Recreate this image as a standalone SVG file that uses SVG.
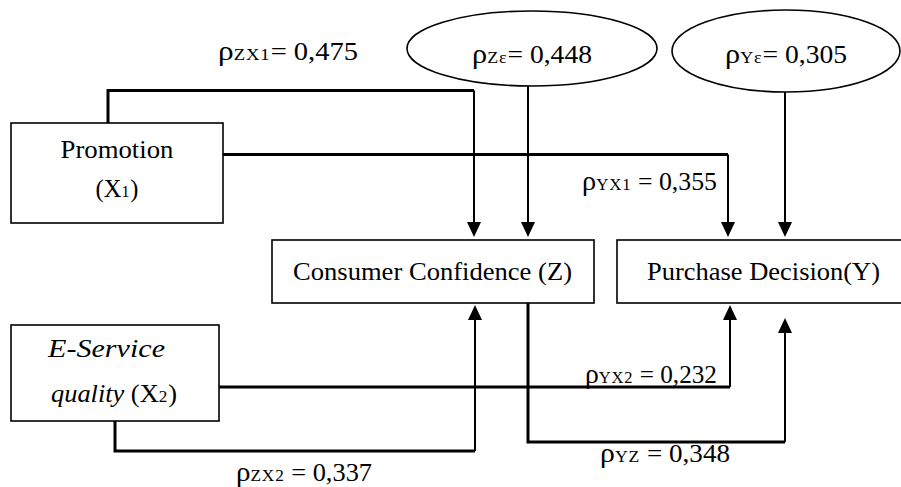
<svg xmlns="http://www.w3.org/2000/svg" width="901" height="487" viewBox="0 0 901 487">
<style>
text{font-family:"Liberation Serif","Times New Roman",serif;font-size:24.5px;fill:#000}
tspan{font-family:"Liberation Serif","Times New Roman",serif}
.box{fill:#fff;stroke:#000;stroke-width:1.6}
.ell{fill:#fff;stroke:#000;stroke-width:1.6}
.thick{fill:none;stroke:#000;stroke-width:3}
.thin{fill:none;stroke:#000;stroke-width:2}
.sub{font-size:16px;letter-spacing:0.8px}
.rho{font-size:27px}
</style>
<defs>
<marker id="ah" viewBox="0 0 15 14" refX="2" refY="7" markerWidth="15" markerHeight="14" orient="auto" markerUnits="userSpaceOnUse">
<path d="M0,0 L15,7 L0,14 z" fill="#000"/>
</marker>
</defs>
<rect width="901" height="487" fill="#fff"/>

<g id="connectors">
<g id="c-x1-z">
<path class="thick" d="M108,123 V90.5 H474"/>
<path class="thin" d="M474,90.5 V224" marker-end="url(#ah)"/>
</g>
<g id="c-ez-z">
<path class="thin" d="M528,86 V224" marker-end="url(#ah)"/>
</g>
<g id="c-x1-y">
<path class="thick" d="M223,154.5 H728"/>
<path class="thin" d="M728,154.5 V224" marker-end="url(#ah)"/>
</g>
<g id="c-ey-y">
<path class="thin" d="M785,92 V224" marker-end="url(#ah)"/>
</g>
<g id="c-x2-y">
<path class="thick" d="M219,387 H730"/>
<path class="thin" d="M730,387 V318" marker-end="url(#ah)"/>
</g>
<g id="c-x2-z">
<path class="thick" d="M115,421 V451 H475"/>
<path class="thin" d="M475,451 V318" marker-end="url(#ah)"/>
</g>
<g id="c-z-y">
<path class="thick" d="M528,303 V442 H785"/>
<path class="thin" d="M785,442 V331" marker-end="url(#ah)"/>
</g>
</g>

<g id="labels" font-family="Liberation Serif, serif">
<text x="218" y="60" textLength="140" lengthAdjust="spacingAndGlyphs"><tspan class="rho">ρ</tspan><tspan class="sub">ZX1</tspan>= 0,475</text>
<text x="582" y="190" textLength="135" lengthAdjust="spacingAndGlyphs"><tspan class="rho">ρ</tspan><tspan class="sub">YX1</tspan> = 0,355</text>
<text x="585" y="383" textLength="132" lengthAdjust="spacingAndGlyphs"><tspan class="rho">ρ</tspan><tspan class="sub">YX2</tspan> = 0,232</text>
<text x="236" y="481" textLength="136" lengthAdjust="spacingAndGlyphs"><tspan class="rho">ρ</tspan><tspan class="sub">ZX2</tspan> = 0,337</text>
<text x="600" y="462" textLength="130" lengthAdjust="spacingAndGlyphs"><tspan class="rho">ρ</tspan><tspan class="sub">YZ</tspan> = 0,348</text>
</g>

<g id="err-z">
<ellipse class="ell" cx="532" cy="48.5" rx="125" ry="37.5"/>
<text x="472" y="63" textLength="120" lengthAdjust="spacingAndGlyphs"><tspan class="rho">ρ</tspan><tspan class="sub">Zε</tspan>= 0,448</text>
</g>

<g id="err-y">
<ellipse class="ell" cx="786" cy="51" rx="114" ry="41"/>
<text x="725" y="63" textLength="122" lengthAdjust="spacingAndGlyphs"><tspan class="rho">ρ</tspan><tspan class="sub">Yε</tspan>= 0,305</text>
</g>

<g id="promotion">
<rect class="box" x="11" y="123" width="212" height="100"/>
<text x="117" y="158" text-anchor="middle" textLength="113" lengthAdjust="spacingAndGlyphs">Promotion</text>
<text x="117" y="197" text-anchor="middle">(X<tspan class="sub">1</tspan>)</text>
</g>

<g id="eservice">
<rect class="box" x="11" y="325" width="208" height="96"/>
<text x="106.5" y="357" text-anchor="middle" font-style="italic" textLength="117" lengthAdjust="spacingAndGlyphs">E-Service</text>
<text x="114" y="402" text-anchor="middle" textLength="126" lengthAdjust="spacingAndGlyphs"><tspan font-style="italic">quality</tspan> (X<tspan class="sub">2</tspan>)</text>
</g>

<g id="consumer">
<rect class="box" x="272" y="240" width="322" height="63"/>
<text x="432.5" y="279.5" text-anchor="middle" textLength="279" lengthAdjust="spacingAndGlyphs">Consumer Confidence (Z)</text>
</g>

<g id="purchase">
<rect class="box" x="617" y="240" width="295" height="63"/>
<text x="763.5" y="279.5" text-anchor="middle" textLength="233" lengthAdjust="spacingAndGlyphs">Purchase Decision(Y)</text>
</g>
</svg>
